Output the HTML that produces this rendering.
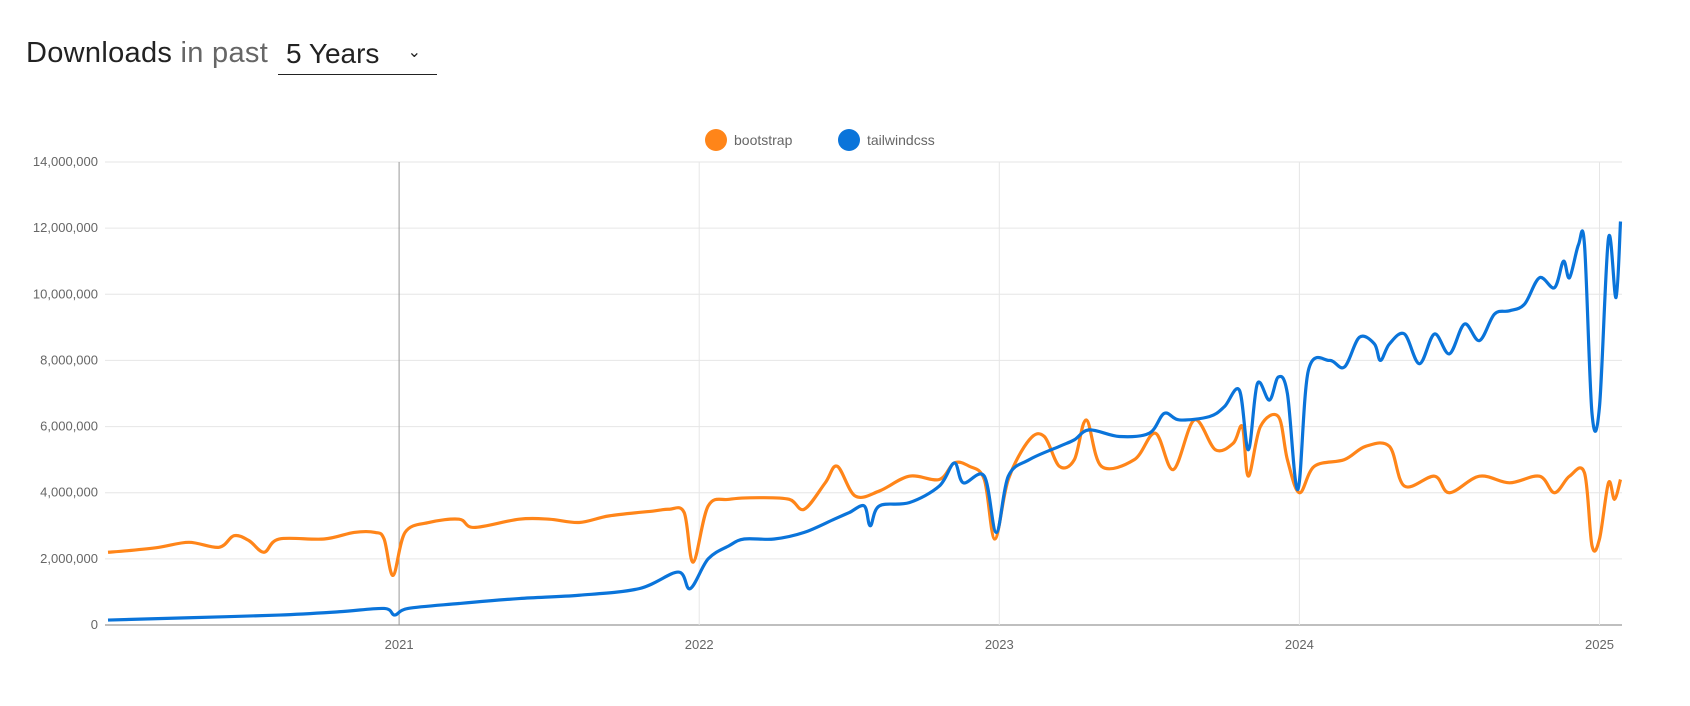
<!DOCTYPE html>
<html><head><meta charset="utf-8"><style>
body{margin:0;background:#fff;width:1690px;height:706px;overflow:hidden;font-family:"Liberation Sans",sans-serif}
#title{position:absolute;left:26px;top:37px;font-size:29px;color:#222;white-space:nowrap;letter-spacing:0.3px}
#title .lt{color:#666}
#sel{position:absolute;left:278px;top:38px;width:159px;height:36px;border-bottom:1.5px solid #222;font-size:28px;color:#222}
#sel span{position:absolute;left:8px;top:0}
#sel i{position:absolute;right:16px;top:4px;font-style:normal;font-size:16px}
svg{position:absolute;left:0;top:0}
</style></head><body>
<div id="title">Downloads <span class="lt">in past</span></div>
<div id="sel"><span>5 Years</span><i>⌄</i></div>
<svg id="chart" width="1690" height="706"></svg>
<script>
const yTicks=[0,2,4,6,8,10,12,14];
const xTickYears=[2021,2022,2023,2024,2025];
const seriesNames=["bootstrap","tailwindcss"];
const bsX=[2020.03,2020.1,2020.2,2020.3,2020.4,2020.45,2020.5,2020.55,2020.6,2020.75,2020.85,2020.92,2020.95,2020.98,2021.02,2021.1,2021.2,2021.25,2021.4,2021.5,2021.6,2021.7,2021.85,2021.9,2021.95,2021.98,2022.03,2022.1,2022.2,2022.3,2022.35,2022.42,2022.46,2022.52,2022.6,2022.7,2022.8,2022.85,2022.9,2022.95,2022.985,2023.03,2023.1,2023.15,2023.2,2023.25,2023.29,2023.34,2023.45,2023.52,2023.58,2023.65,2023.72,2023.78,2023.81,2023.83,2023.87,2023.93,2023.96,2024.0,2024.05,2024.15,2024.22,2024.3,2024.35,2024.45,2024.5,2024.6,2024.7,2024.8,2024.85,2024.9,2024.95,2024.975,2025.0,2025.03,2025.05,2025.07];
const bsY=[2.2,2.25,2.35,2.5,2.35,2.7,2.55,2.2,2.6,2.6,2.8,2.8,2.6,1.5,2.8,3.1,3.2,2.95,3.2,3.2,3.1,3.3,3.45,3.5,3.4,1.9,3.6,3.8,3.85,3.8,3.5,4.3,4.8,3.9,4.05,4.5,4.4,4.9,4.8,4.4,2.6,4.4,5.6,5.7,4.8,5.0,6.2,4.8,5.0,5.8,4.7,6.2,5.3,5.5,6.0,4.5,6.0,6.3,5.0,4.0,4.8,5.0,5.4,5.4,4.2,4.5,4.0,4.5,4.3,4.5,4.0,4.5,4.6,2.4,2.6,4.3,3.8,4.4];
const twX=[2020.03,2020.3,2020.6,2020.8,2020.95,2020.985,2021.03,2021.2,2021.4,2021.6,2021.8,2021.93,2021.97,2022.03,2022.1,2022.15,2022.25,2022.35,2022.45,2022.5,2022.55,2022.57,2022.6,2022.7,2022.8,2022.85,2022.88,2022.95,2022.99,2023.03,2023.1,2023.2,2023.25,2023.3,2023.4,2023.5,2023.55,2023.6,2023.7,2023.75,2023.8,2023.83,2023.86,2023.9,2023.93,2023.96,2023.995,2024.03,2024.1,2024.15,2024.2,2024.25,2024.27,2024.3,2024.35,2024.4,2024.45,2024.5,2024.55,2024.6,2024.65,2024.7,2024.75,2024.8,2024.85,2024.88,2024.9,2024.93,2024.95,2024.975,2025.0,2025.03,2025.055,2025.07];
const twY=[0.15,0.22,0.3,0.4,0.5,0.3,0.5,0.65,0.8,0.9,1.1,1.6,1.1,2.0,2.4,2.6,2.6,2.8,3.2,3.4,3.6,3.0,3.6,3.7,4.2,4.9,4.3,4.5,2.8,4.5,5.0,5.4,5.6,5.9,5.7,5.8,6.4,6.2,6.3,6.6,7.1,5.3,7.3,6.8,7.5,7.0,4.1,7.7,8.0,7.8,8.7,8.5,8.0,8.5,8.8,7.9,8.8,8.2,9.1,8.6,9.4,9.5,9.7,10.5,10.2,11.0,10.5,11.5,11.5,6.4,6.6,11.7,9.9,12.2];
const svg=document.getElementById('chart'),NS='http://www.w3.org/2000/svg';
const L=105,R=1622,T=162,B=625;
const xS=v=>L+(v-2020.02)/(2025.075-2020.02)*(R-L);
const yS=v=>B-v/14*(B-T);
function mk(t,a,p){const e=document.createElementNS(NS,t);for(const k in a)e.setAttribute(k,a[k]);(p||svg).appendChild(e);return e;}
yTicks.forEach(v=>{
 const g=mk('line',{x1:L,x2:R,y1:yS(v),y2:yS(v),stroke:v?'#e6e6e6':'#aaa','stroke-width':v?1:1.5});
 
 
 const t=mk('text',{x:L-7,y:yS(v)+4,'text-anchor':'end','font-size':13,fill:'#666'});
 t.textContent=(v*1e6).toLocaleString('en-US');
 
 
});
xTickYears.forEach(v=>{
 const g=mk('line',{x1:xS(v),x2:xS(v),y1:T,y2:B,stroke:v===2021?'#999':'#e6e6e6','stroke-width':1});
 
 
 const t=mk('text',{x:xS(v),y:B+24,'text-anchor':'middle','font-size':13,fill:'#666'});
 t.textContent=v;
 
 
});
function path(xs,ys){
 const p=xs.map((x,i)=>[xS(x),yS(ys[i])]);
 let d='M'+p[0][0]+','+p[0][1];
 for(let i=0;i<p.length-1;i++){
  const p0=p[i-1]||p[i],p1=p[i],p2=p[i+1],p3=p[i+2]||p2;
  const c1=[p1[0]+(p2[0]-p0[0])/6,p1[1]+(p2[1]-p0[1])/6],c2=[p2[0]-(p3[0]-p1[0])/6,p2[1]-(p3[1]-p1[1])/6];
  d+='C'+c1+' '+c2+' '+p2;
 }
 return d;
}
const b=mk('path',{d:path(bsX,bsY),fill:'none',stroke:'#ff8519','stroke-width':3.2,'stroke-linejoin':'round'});


const w=mk('path',{d:path(twX,twY),fill:'none',stroke:'#0a74da','stroke-width':3.2,'stroke-linejoin':'round'});


const legendPos=[[716,'#ff8519'],[849,'#0a74da']];
seriesNames.forEach((n,i)=>{
 const c=mk('circle',{cx:legendPos[i][0],cy:140,r:11,fill:legendPos[i][1]});
 
 
 const t=mk('text',{x:legendPos[i][0]+18,y:145,'font-size':14,fill:'#666'});
 t.textContent=n;
 
 
});
</script>
</body></html>
